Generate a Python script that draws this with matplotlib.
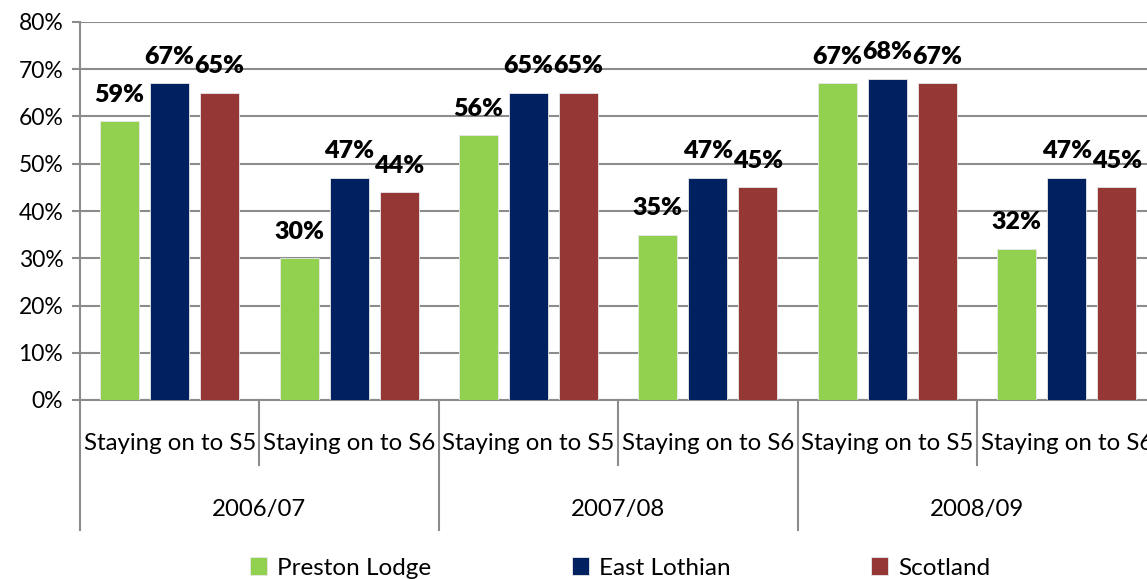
import numpy as np
import matplotlib
matplotlib.use("Agg")
from matplotlib import pyplot as plt
from matplotlib import transforms
from matplotlib.ticker import FuncFormatter

# data
years = ["2006/07", "2007/08", "2008/09"]
stages = ["Staying on to S5", "Staying on to S6"]
series = ["Preston Lodge", "East Lothian", "Scotland"]
preston_lodge = [0.59, 0.30, 0.56, 0.35, 0.67, 0.32]
east_lothian = [0.67, 0.47, 0.65, 0.47, 0.68, 0.47]
scotland = [0.65, 0.44, 0.65, 0.45, 0.67, 0.45]
colors = ["#92D050", "#002060", "#953735"]

plt.rcParams['font.family'] = ['Lato', 'DejaVu Sans']

fig = plt.figure(figsize=(11.47, 5.79), dpi=100)
ax = fig.add_axes([80/1147, 1-400/579, 1076.4/1147, 378/579])

ncat = len(years) * len(stages)
x = np.arange(ncat) + 0.5
step = 50/179.4
width = 39/179.4
grey = "#8c8c8c"

for i, (name, vals) in enumerate(zip(series, [preston_lodge, east_lothian, scotland])):
    pos = x + (i - 1) * step
    ax.bar(pos, vals, width, color=colors[i], label=name, zorder=3,
           edgecolor="#e8e8e8", linewidth=0.6)
    for px, v in zip(pos, vals):
        ax.annotate("%d%%" % round(v*100), (px, v), xytext=(0, 14),
                    textcoords="offset points", ha="center", va="baseline",
                    fontsize=18, fontweight="heavy", color="black")

ax.set_xlim(0, ncat)
ax.set_ylim(0, 0.8)
ax.set_yticks(np.arange(0, 0.81, 0.1))
ax.yaxis.set_major_formatter(FuncFormatter(lambda v, p: "%d%%" % round(v*100)))
ax.tick_params(axis="y", length=6, width=1.5, color=grey, labelsize=16.5, pad=6)
ax.set_xticks([])
ax.grid(axis="y", color=grey, linewidth=1.5, zorder=0)
for s in ["top", "right"]:
    ax.spines[s].set_visible(False)
ax.spines["left"].set_color(grey)
ax.spines["left"].set_linewidth(1.5)
ax.spines["bottom"].set_color(grey)
ax.spines["bottom"].set_linewidth(1.5)

# multi-level category axis
trans = transforms.blended_transform_factory(ax.transData, ax.transAxes)
for b in range(ncat + 1):
    low = -0.344 if b % 2 == 0 else -0.172
    ax.plot([b, b], [0, low], color=grey, linewidth=1.5, transform=trans, clip_on=False)
for k in range(ncat):
    ax.text(k + 0.5, -0.114, stages[k % 2], transform=trans, ha="center", va="center",
            fontsize=17.3)
for j, yr in enumerate(years):
    ax.text(2*j + 1, -0.29, yr, transform=trans, ha="center", va="center", fontsize=17.3)

fig.legend(loc="center", bbox_to_anchor=(620/1147, 1-568/579), ncol=3, frameon=False,
           fontsize=17.5, handlelength=0.7, handleheight=0.7, handletextpad=0.4,
           columnspacing=5.8)

fig.savefig("out.png", dpi=100)
